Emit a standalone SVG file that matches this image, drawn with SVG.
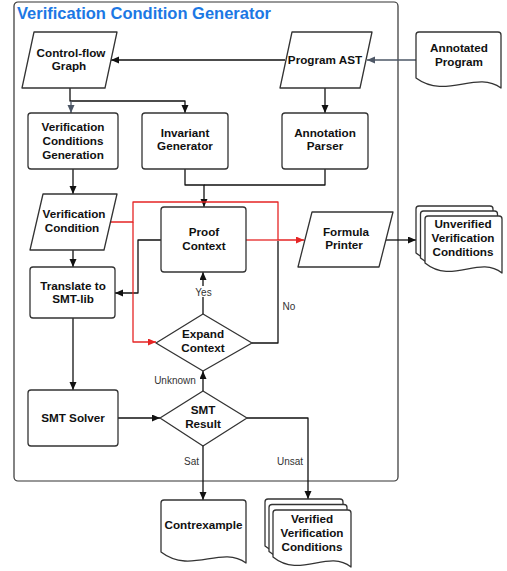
<svg xmlns="http://www.w3.org/2000/svg" width="507" height="571" viewBox="0 0 507 571">
<defs>
<style>
.n{fill:#fff;stroke:#333;stroke-width:1.3;stroke-linejoin:round}
.t{font-family:"Liberation Sans",Arial,sans-serif;font-weight:bold;font-size:11.7px;fill:#111;text-anchor:middle}
.l{font-family:"Liberation Sans",Arial,sans-serif;font-size:10px;fill:#333;text-anchor:middle}
.c{fill:none;stroke:#111;stroke-width:1.3;stroke-linejoin:round}
.g{fill:none;stroke:#4d5766;stroke-width:1.3;stroke-linejoin:round}
.r{fill:none;stroke:#e52525;stroke-width:1.3;stroke-linejoin:round}
</style>
<marker id="ab" markerUnits="userSpaceOnUse" markerWidth="9" markerHeight="8" refX="8" refY="3.5" orient="auto"><path d="M0,0 L8,3.5 L0,7 Z" fill="#111"/></marker>
<marker id="ag" markerUnits="userSpaceOnUse" markerWidth="9" markerHeight="8" refX="8" refY="3.5" orient="auto"><path d="M0,0 L8,3.5 L0,7 Z" fill="#4d5766"/></marker>
<marker id="ar" markerUnits="userSpaceOnUse" markerWidth="9" markerHeight="8" refX="8" refY="3.5" orient="auto"><path d="M0,0 L8,3.5 L0,7 Z" fill="#e52525"/></marker>
</defs>
<rect width="507" height="571" fill="#fff"/>
<g id="container">
<rect x="14" y="2" width="384" height="479" rx="4" fill="none" stroke="#333" stroke-width="1.2"/>
<text x="17" y="19" font-family="'Liberation Sans',Arial,sans-serif" font-weight="bold" font-size="16.5px" fill="#1c78e4">Verification Condition Generator</text>
</g>
<g id="connectors">
<path class="g" d="M416,60 H367" marker-end="url(#ag)"/>
<path class="c" d="M285,60 H111" marker-end="url(#ab)"/>
<path class="c" d="M70,88 V101 H185 V113" marker-end="url(#ab)"/>
<path class="g" d="M71,101 V113" marker-end="url(#ag)"/>
<path class="c" d="M325,88 V113" marker-end="url(#ab)"/>
<path class="c" d="M185,169 V185 H204 V207" marker-end="url(#ab)"/>
<path class="c" d="M325,169 V185 H204"/>
<path class="c" d="M73,169 V194" marker-end="url(#ab)"/>
<path class="c" d="M73,250 V267" marker-end="url(#ab)"/>
<path class="c" d="M161,240 H138 V293 H115" marker-end="url(#ab)"/>
<path class="r" d="M110,222 H133 V202 H278 V240 H304" marker-end="url(#ar)"/>
<path class="r" d="M133,222 V342 H156" marker-end="url(#ar)"/>
<path class="r" d="M246,240 H278"/>
<path class="c" d="M203,314 V272" marker-end="url(#ab)"/>
<path class="c" d="M252,343 H278 V241"/>
<path class="c" d="M386,240 H416" marker-end="url(#ab)"/>
<path class="c" d="M73,318 V390" marker-end="url(#ab)"/>
<path class="c" d="M118,418 H160" marker-end="url(#ab)"/>
<path class="c" d="M203,391 V371" marker-end="url(#ab)"/>
<path class="c" d="M247,418 H308 V499" marker-end="url(#ab)"/>
<path class="c" d="M203,446 V500" marker-end="url(#ab)"/>
<rect x="195" y="286" width="17" height="11" fill="#fff"/>
<text class="l" x="203.5" y="295.5">Yes</text>
<text class="l" x="289" y="310">No</text>
<text class="l" x="175" y="383.5">Unknown</text>
<text class="l" x="191.5" y="465">Sat</text>
<text class="l" x="290" y="465">Unsat</text>
</g>
<g id="annotated-program">
<path class="n" d="M416,78 V35 Q416,32 419,32 H498 Q501,32 501,35 V88 C476,70 446,100 416,78 Z"/>
<text class="t" x="459" y="52">Annotated</text>
<text class="t" x="459" y="66">Program</text>
</g>
<g id="program-ast">
<polygon class="n" points="292,32 372,32 360,88 280,88"/>
<text class="t" x="325" y="64">Program AST</text>
</g>
<g id="control-flow-graph">
<polygon class="n" points="34,32 117,32 105,88 22,88"/>
<text class="t" x="71" y="56.5">Control-flow</text>
<text class="t" x="69" y="70">Graph</text>
</g>
<g id="vc-generation">
<rect class="n" x="28" y="113" width="90" height="56" rx="3"/>
<text class="t" x="73" y="130.5">Verification</text>
<text class="t" x="73" y="144.5">Conditions</text>
<text class="t" x="73" y="158.5">Generation</text>
</g>
<g id="invariant-generator">
<rect class="n" x="142" y="113" width="86" height="56" rx="3"/>
<text class="t" x="185" y="136.5">Invariant</text>
<text class="t" x="185" y="150">Generator</text>
</g>
<g id="annotation-parser">
<rect class="n" x="282" y="113" width="86" height="56" rx="3"/>
<text class="t" x="325" y="136.5">Annotation</text>
<text class="t" x="325" y="150">Parser</text>
</g>
<g id="verification-condition">
<polygon class="n" points="43,194 117,194 104,250 30,250"/>
<text class="t" x="74" y="218">Verification</text>
<text class="t" x="72" y="232">Condition</text>
</g>
<g id="proof-context">
<rect class="n" x="161" y="207" width="85" height="65" rx="3"/>
<text class="t" x="204" y="235.5">Proof</text>
<text class="t" x="204" y="249.5">Context</text>
</g>
<g id="translate-smtlib">
<rect class="n" x="30" y="267" width="85" height="51" rx="3"/>
<text class="t" x="73" y="289.5">Translate to</text>
<text class="t" x="73" y="303">SMT-lib</text>
</g>
<g id="formula-printer">
<polygon class="n" points="312,212 393,212 379,267 298,267"/>
<text class="t" x="346" y="235.5">Formula</text>
<text class="t" x="344" y="249">Printer</text>
</g>
<g id="unverified-vcs">
<path class="n" d="M416,253 V209 Q416,206 419,206 H490 Q493,206 493,209 V263 C470,245 443,275 416,253 Z"/>
<path class="n" d="M420.5,258 V214 Q420.5,211 423.5,211 H494.5 Q497.5,211 497.5,214 V268 C474.5,250 447.5,280 420.5,258 Z"/>
<path class="n" d="M425,263 V219 Q425,216 428,216 H499 Q502,216 502,219 V273 C479,255 452,285 425,263 Z"/>
<text class="t" x="463" y="228">Unverified</text>
<text class="t" x="463" y="242">Verification</text>
<text class="t" x="463" y="256">Conditions</text>
</g>
<g id="expand-context">
<polygon class="n" points="203,314 252,343 203,371 156,343"/>
<text class="t" x="203" y="337.5">Expand</text>
<text class="t" x="203" y="351.5">Context</text>
</g>
<g id="smt-solver">
<rect class="n" x="28" y="390" width="90" height="56" rx="3"/>
<text class="t" x="73" y="421.5">SMT Solver</text>
</g>
<g id="smt-result">
<polygon class="n" points="203,391 247,418 203,446 160,418"/>
<text class="t" x="203" y="414">SMT</text>
<text class="t" x="203" y="428">Result</text>
</g>
<g id="contrexample">
<path class="n" d="M161,552 V503 Q161,500 164,500 H243 Q246,500 246,503 V563 C221,545 191,575 161,552 Z"/>
<text class="t" x="203.5" y="528.5">Contrexample</text>
</g>
<g id="verified-vcs">
<path class="n" d="M265,546 V502 Q265,499 268,499 H340 Q343,499 343,502 V556 C320,538 292,568 265,546 Z"/>
<path class="n" d="M269,551.5 V507.5 Q269,504.5 272,504.5 H344 Q347,504.5 347,507.5 V561.5 C324,543.5 296,573.5 269,551.5 Z"/>
<path class="n" d="M273,557 V513 Q273,510 276,510 H348 Q351,510 351,513 V567 C328,549 300,579 273,557 Z"/>
<text class="t" x="312" y="523">Verified</text>
<text class="t" x="312" y="537">Verification</text>
<text class="t" x="312" y="551">Conditions</text>
</g>
</svg>
